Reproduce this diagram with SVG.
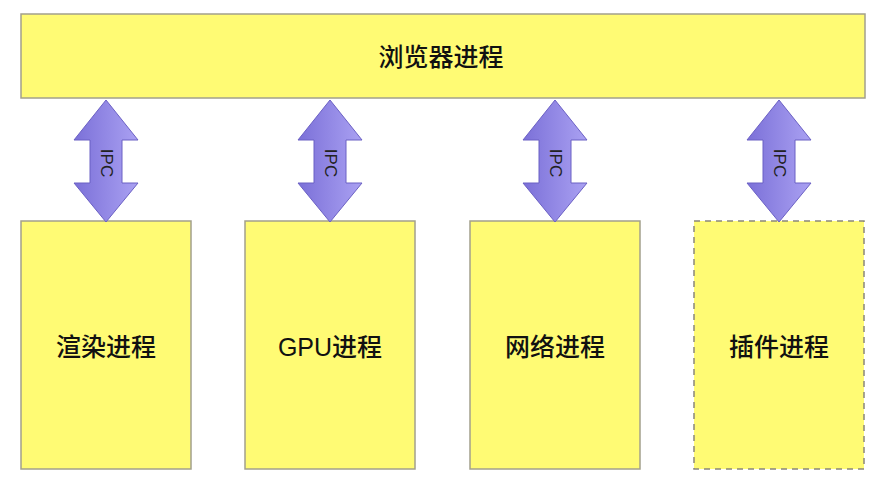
<svg xmlns="http://www.w3.org/2000/svg" width="889" height="489" viewBox="0 0 889 489">
<defs>
<style>
.box{fill:#fffb74;stroke:#a3a08c;stroke-width:1.5}
.dash{stroke-dasharray:6,5;stroke:#8a877a}
.lbl{font-family:"Liberation Sans","Noto Sans CJK SC",sans-serif;font-size:25px;font-weight:500;fill:#111;text-anchor:middle;dominant-baseline:central}
.ipc{font-family:"Liberation Sans",sans-serif;font-size:17px;fill:#222;text-anchor:middle;dominant-baseline:central}
.arr{fill:url(#g);stroke:#6b60c4;stroke-width:1}
</style>
<linearGradient id="g" x1="0" y1="0" x2="1" y2="0">
<stop offset="0" stop-color="#7b70d8"/>
<stop offset="1" stop-color="#aaa1f2"/>
</linearGradient>
<path id="a" d="M0,100 L32,140 L16,140 L16,183 L32,183 L0,222 L-32,183 L-16,183 L-16,140 L-32,140 Z"/>
</defs>
<g id="browser"><rect class="box" x="21" y="14" width="844" height="84"/><text class="lbl" x="441" y="57">浏览器进程</text></g>
<g id="render"><rect class="box" x="21" y="221" width="170" height="248"/><text class="lbl" x="106" y="347">渲染进程</text></g>
<g id="gpu"><rect class="box" x="245" y="221" width="170" height="248"/><text class="lbl" x="330" y="347">GPU进程</text></g>
<g id="network"><rect class="box" x="470" y="221" width="170" height="248"/><text class="lbl" x="555" y="347">网络进程</text></g>
<g id="plugin"><rect class="box dash" x="694" y="221" width="170" height="248"/><text class="lbl" x="779" y="347">插件进程</text></g>
<g id="connectors">
<g transform="translate(106,0)"><use href="#a" class="arr"/><text class="ipc" transform="translate(0,163) rotate(90)">IPC</text></g>
<g transform="translate(330,0)"><use href="#a" class="arr"/><text class="ipc" transform="translate(0,163) rotate(90)">IPC</text></g>
<g transform="translate(555,0)"><use href="#a" class="arr"/><text class="ipc" transform="translate(0,163) rotate(90)">IPC</text></g>
<g transform="translate(779,0)"><use href="#a" class="arr"/><text class="ipc" transform="translate(0,163) rotate(90)">IPC</text></g>
</g>
</svg>
